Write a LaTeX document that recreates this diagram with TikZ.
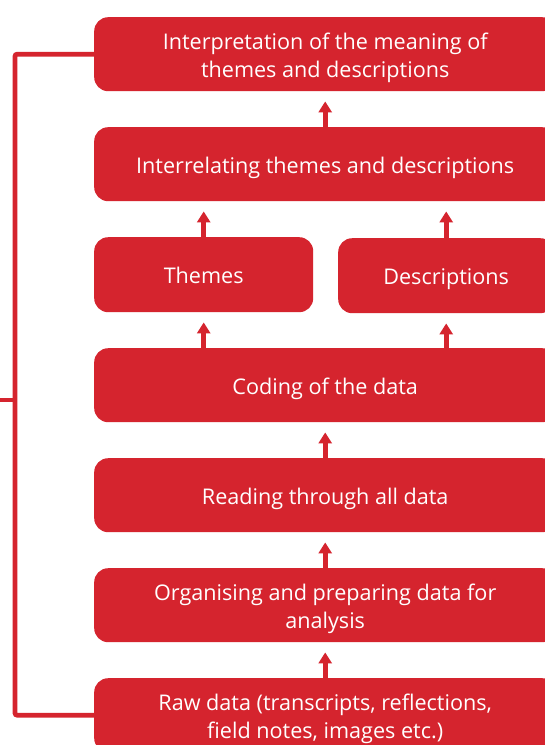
\documentclass[tikz,border=0pt]{standalone}
\usepackage{fontspec}
\setmainfont{Open Sans}
\usetikzlibrary{arrows.meta}
\definecolor{boxred}{RGB}{213,36,46}
\newcommand{\firstup}{\rule{0pt}{24pt}}
\tikzset{
  x=1pt,y=1pt,
  mainbox/.style={fill=boxred, rounded corners=14pt, text=white, align=center,
    font=\fontsize{21.6}{28}\selectfont, inner sep=0pt},
  oneline/.style={execute at begin node={\rule{0pt}{25pt}},
    execute at end node={\rule[-7pt]{0pt}{7pt}}},
  upar/.style={draw=boxred, line width=4.8pt, -{Triangle[width=13pt,length=11pt]}, shorten >=10pt},
  bracket/.style={draw=boxred, line width=4.6pt, rounded corners=2pt},
}
\begin{document}
\begin{tikzpicture}
\path[use as bounding box, clip] (0,0) rectangle (545,-745);
\fill[white] (0,0) rectangle (545,-745);
% main boxes
\node[mainbox, minimum width=462pt, minimum height=74pt, anchor=north west] (b1) at (94,-17) {\firstup Interpretation of the meaning of\\themes and descriptions};
\node[mainbox, oneline, minimum width=462pt, minimum height=74pt, anchor=north west] (b2) at (94,-127) {Interrelating themes and descriptions};
\node[mainbox, oneline, minimum width=219pt, minimum height=75pt, anchor=north west] (th) at (94,-237) {Themes};
\node[mainbox, oneline, minimum width=216pt, minimum height=75pt, anchor=north west] (de) at (338,-238) {Descriptions};
\node[mainbox, oneline, minimum width=462pt, minimum height=74pt, anchor=north west] (co) at (94,-348) {Coding of the data};
\node[mainbox, oneline, minimum width=462pt, minimum height=74pt, anchor=north west] (re) at (94,-458) {Reading through all data};
\node[mainbox, minimum width=462pt, minimum height=74pt, anchor=north west] (or) at (94,-568) {\firstup Organising and preparing data for\\analysis};
\node[mainbox, minimum width=462pt, minimum height=74pt, anchor=north west] (rd) at (94,-678) {\firstup Raw data (transcripts, reflections,\\field notes, images etc.)};
% arrows
\draw[upar] (rd.north) -- (or.south);
\draw[upar] (or.north) -- (re.south);
\draw[upar] (re.north) -- (co.south);
\draw[upar] (co.north -| th.north) -- (th.south);
\draw[upar] (co.north -| de.north) -- (de.south);
\draw[upar] (th.north) -- (th.north |- b2.south);
\draw[upar] (de.north) -- (de.north |- b2.south);
\draw[upar] (b2.north) -- (b1.south);
% bracket
\coordinate (bk) at (15,-400);
\coordinate (bkend) at (0,-400);
\draw[bracket] (b1.west) -| (bk) |- (rd.west);
\draw[bracket] (bk) -- (bkend);
\end{tikzpicture}
\end{document}
